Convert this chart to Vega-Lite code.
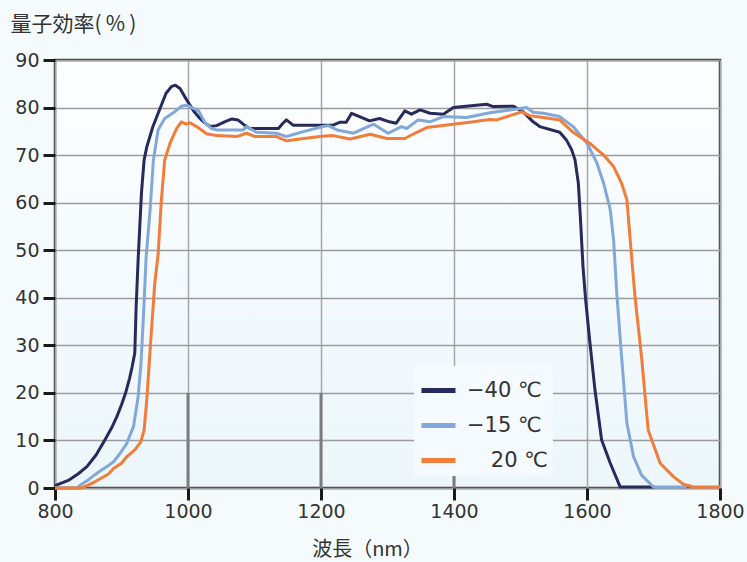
{
  "$schema": "https://vega.github.io/schema/vega-lite/v6.json",
  "width": 665,
  "height": 428,
  "autosize": {"type": "none"},
  "padding": {"left": 55, "top": 60, "right": 27, "bottom": 74},
  "background": "#f5fbfd",
  "config": {
    "font": "DejaVu Sans",
    "view": {
      "stroke": "#3c3c3c",
      "strokeWidth": 2.5,
      "fill": {
        "gradient": "linear",
        "x1": 0, "y1": -0.14, "x2": 0, "y2": 1.17,
        "stops": [{"offset": 0, "color": "#ffffff"}, {"offset": 1, "color": "#e9f5fb"}]
      }
    },
    "axisX": {
      "domain": false,
      "tickSize": 12, "tickWidth": 3, "tickColor": "#1a1a1a",
      "gridColor": "#a8a8a8", "gridWidth": 1.5,
      "labelFontSize": 19, "labelColor": "#333333", "labelPadding": 2,
      "labelFlush": false, "labelOverlap": false,
      "titleFont": "Noto Sans CJK JP", "titleFontSize": 20, "titleFontWeight": "normal", "titleColor": "#333333",
      "titleX": 312, "titleY": 67, "titleAlign": "center", "titleBaseline": "alphabetic"
    },
    "axisY": {
      "domain": false,
      "tickSize": 12, "tickWidth": 3, "tickColor": "#1a1a1a",
      "gridColor": "#9c9c9c", "gridWidth": 1.5,
      "labelFontSize": 19, "labelColor": "#333333", "labelPadding": 4,
      "titleFont": "Noto Sans CJK JP", "titleFontSize": 21, "titleFontWeight": "normal", "titleColor": "#333333",
      "titleAngle": 0, "titleAlign": "left", "titleBaseline": "alphabetic", "titleX": -45, "titleY": -30
    }
  },
  "datasets": {
    "marks": [
      {"nm": 1000, "qe": 0, "qe2": 20},
      {"nm": 1200, "qe": 0, "qe2": 20},
      {"nm": 1400, "qe": 0, "qe2": 20}
    ],
    "curves": [
      {"nm": 800, "qe": 0.5, "t": "−40 ℃"},
      {"nm": 820, "qe": 1.6, "t": "−40 ℃"},
      {"nm": 835, "qe": 3.0, "t": "−40 ℃"},
      {"nm": 848, "qe": 4.5, "t": "−40 ℃"},
      {"nm": 862, "qe": 7.0, "t": "−40 ℃"},
      {"nm": 875, "qe": 10.1, "t": "−40 ℃"},
      {"nm": 885, "qe": 12.6, "t": "−40 ℃"},
      {"nm": 893, "qe": 15.0, "t": "−40 ℃"},
      {"nm": 900, "qe": 17.5, "t": "−40 ℃"},
      {"nm": 906, "qe": 19.9, "t": "−40 ℃"},
      {"nm": 912, "qe": 23.0, "t": "−40 ℃"},
      {"nm": 916, "qe": 25.5, "t": "−40 ℃"},
      {"nm": 920, "qe": 28.4, "t": "−40 ℃"},
      {"nm": 922, "qe": 38, "t": "−40 ℃"},
      {"nm": 925, "qe": 48, "t": "−40 ℃"},
      {"nm": 930, "qe": 62, "t": "−40 ℃"},
      {"nm": 934, "qe": 69, "t": "−40 ℃"},
      {"nm": 938, "qe": 71.7, "t": "−40 ℃"},
      {"nm": 947, "qe": 75.9, "t": "−40 ℃"},
      {"nm": 957, "qe": 79.5, "t": "−40 ℃"},
      {"nm": 967, "qe": 83.0, "t": "−40 ℃"},
      {"nm": 975, "qe": 84.4, "t": "−40 ℃"},
      {"nm": 981, "qe": 84.7, "t": "−40 ℃"},
      {"nm": 988, "qe": 84.0, "t": "−40 ℃"},
      {"nm": 995, "qe": 82.3, "t": "−40 ℃"},
      {"nm": 1003, "qe": 80.5, "t": "−40 ℃"},
      {"nm": 1010, "qe": 79.0, "t": "−40 ℃"},
      {"nm": 1018, "qe": 77.7, "t": "−40 ℃"},
      {"nm": 1025, "qe": 76.8, "t": "−40 ℃"},
      {"nm": 1033, "qe": 76.0, "t": "−40 ℃"},
      {"nm": 1043, "qe": 76.2, "t": "−40 ℃"},
      {"nm": 1055, "qe": 77.0, "t": "−40 ℃"},
      {"nm": 1066, "qe": 77.6, "t": "−40 ℃"},
      {"nm": 1075, "qe": 77.4, "t": "−40 ℃"},
      {"nm": 1084, "qe": 76.4, "t": "−40 ℃"},
      {"nm": 1093, "qe": 75.6, "t": "−40 ℃"},
      {"nm": 1136, "qe": 75.6, "t": "−40 ℃"},
      {"nm": 1142, "qe": 76.6, "t": "−40 ℃"},
      {"nm": 1148, "qe": 77.4, "t": "−40 ℃"},
      {"nm": 1158, "qe": 76.3, "t": "−40 ℃"},
      {"nm": 1218, "qe": 76.3, "t": "−40 ℃"},
      {"nm": 1228, "qe": 76.9, "t": "−40 ℃"},
      {"nm": 1238, "qe": 76.9, "t": "−40 ℃"},
      {"nm": 1246, "qe": 78.8, "t": "−40 ℃"},
      {"nm": 1258, "qe": 78.1, "t": "−40 ℃"},
      {"nm": 1273, "qe": 77.2, "t": "−40 ℃"},
      {"nm": 1288, "qe": 77.7, "t": "−40 ℃"},
      {"nm": 1303, "qe": 77.0, "t": "−40 ℃"},
      {"nm": 1313, "qe": 76.7, "t": "−40 ℃"},
      {"nm": 1326, "qe": 79.3, "t": "−40 ℃"},
      {"nm": 1336, "qe": 78.6, "t": "−40 ℃"},
      {"nm": 1349, "qe": 79.5, "t": "−40 ℃"},
      {"nm": 1364, "qe": 78.8, "t": "−40 ℃"},
      {"nm": 1384, "qe": 78.6, "t": "−40 ℃"},
      {"nm": 1399, "qe": 80.0, "t": "−40 ℃"},
      {"nm": 1449, "qe": 80.7, "t": "−40 ℃"},
      {"nm": 1459, "qe": 80.2, "t": "−40 ℃"},
      {"nm": 1489, "qe": 80.3, "t": "−40 ℃"},
      {"nm": 1504, "qe": 79.1, "t": "−40 ℃"},
      {"nm": 1519, "qe": 77.0, "t": "−40 ℃"},
      {"nm": 1529, "qe": 76.0, "t": "−40 ℃"},
      {"nm": 1559, "qe": 74.8, "t": "−40 ℃"},
      {"nm": 1569, "qe": 73.2, "t": "−40 ℃"},
      {"nm": 1577, "qe": 71.1, "t": "−40 ℃"},
      {"nm": 1582, "qe": 69.0, "t": "−40 ℃"},
      {"nm": 1587, "qe": 64.1, "t": "−40 ℃"},
      {"nm": 1590, "qe": 57.0, "t": "−40 ℃"},
      {"nm": 1594, "qe": 46.5, "t": "−40 ℃"},
      {"nm": 1598, "qe": 39.5, "t": "−40 ℃"},
      {"nm": 1604, "qe": 31.1, "t": "−40 ℃"},
      {"nm": 1612, "qe": 20.6, "t": "−40 ℃"},
      {"nm": 1622, "qe": 10.1, "t": "−40 ℃"},
      {"nm": 1635, "qe": 5.2, "t": "−40 ℃"},
      {"nm": 1650, "qe": 0.2, "t": "−40 ℃"},
      {"nm": 1702, "qe": 0.2, "t": "−40 ℃"},

      {"nm": 800, "qe": 0, "t": "−15 ℃"},
      {"nm": 833, "qe": 0, "t": "−15 ℃"},
      {"nm": 840, "qe": 0.8, "t": "−15 ℃"},
      {"nm": 850, "qe": 1.7, "t": "−15 ℃"},
      {"nm": 860, "qe": 2.8, "t": "−15 ℃"},
      {"nm": 870, "qe": 3.8, "t": "−15 ℃"},
      {"nm": 880, "qe": 4.7, "t": "−15 ℃"},
      {"nm": 888, "qe": 5.5, "t": "−15 ℃"},
      {"nm": 898, "qe": 7.3, "t": "−15 ℃"},
      {"nm": 908, "qe": 9.4, "t": "−15 ℃"},
      {"nm": 918, "qe": 12.9, "t": "−15 ℃"},
      {"nm": 925, "qe": 19.2, "t": "−15 ℃"},
      {"nm": 929, "qe": 25.5, "t": "−15 ℃"},
      {"nm": 933, "qe": 36.0, "t": "−15 ℃"},
      {"nm": 937, "qe": 48.5, "t": "−15 ℃"},
      {"nm": 943, "qe": 58.5, "t": "−15 ℃"},
      {"nm": 948, "qe": 69.0, "t": "−15 ℃"},
      {"nm": 955, "qe": 75.3, "t": "−15 ℃"},
      {"nm": 965, "qe": 77.7, "t": "−15 ℃"},
      {"nm": 980, "qe": 79.1, "t": "−15 ℃"},
      {"nm": 990, "qe": 80.3, "t": "−15 ℃"},
      {"nm": 998, "qe": 80.5, "t": "−15 ℃"},
      {"nm": 1006, "qe": 80.0, "t": "−15 ℃"},
      {"nm": 1016, "qe": 79.3, "t": "−15 ℃"},
      {"nm": 1026, "qe": 76.7, "t": "−15 ℃"},
      {"nm": 1035, "qe": 75.6, "t": "−15 ℃"},
      {"nm": 1043, "qe": 75.3, "t": "−15 ℃"},
      {"nm": 1083, "qe": 75.3, "t": "−15 ℃"},
      {"nm": 1088, "qe": 76.0, "t": "−15 ℃"},
      {"nm": 1103, "qe": 74.8, "t": "−15 ℃"},
      {"nm": 1133, "qe": 74.6, "t": "−15 ℃"},
      {"nm": 1148, "qe": 73.9, "t": "−15 ℃"},
      {"nm": 1175, "qe": 75.0, "t": "−15 ℃"},
      {"nm": 1203, "qe": 76.0, "t": "−15 ℃"},
      {"nm": 1211, "qe": 76.2, "t": "−15 ℃"},
      {"nm": 1224, "qe": 75.3, "t": "−15 ℃"},
      {"nm": 1249, "qe": 74.6, "t": "−15 ℃"},
      {"nm": 1279, "qe": 76.5, "t": "−15 ℃"},
      {"nm": 1301, "qe": 74.6, "t": "−15 ℃"},
      {"nm": 1321, "qe": 76.0, "t": "−15 ℃"},
      {"nm": 1329, "qe": 75.6, "t": "−15 ℃"},
      {"nm": 1346, "qe": 77.4, "t": "−15 ℃"},
      {"nm": 1364, "qe": 77.0, "t": "−15 ℃"},
      {"nm": 1384, "qe": 78.1, "t": "−15 ℃"},
      {"nm": 1419, "qe": 77.9, "t": "−15 ℃"},
      {"nm": 1454, "qe": 78.9, "t": "−15 ℃"},
      {"nm": 1484, "qe": 79.5, "t": "−15 ℃"},
      {"nm": 1509, "qe": 80.0, "t": "−15 ℃"},
      {"nm": 1519, "qe": 79.0, "t": "−15 ℃"},
      {"nm": 1534, "qe": 78.8, "t": "−15 ℃"},
      {"nm": 1559, "qe": 78.1, "t": "−15 ℃"},
      {"nm": 1579, "qe": 76.0, "t": "−15 ℃"},
      {"nm": 1600, "qe": 72.5, "t": "−15 ℃"},
      {"nm": 1615, "qe": 68.3, "t": "−15 ℃"},
      {"nm": 1625, "qe": 64.1, "t": "−15 ℃"},
      {"nm": 1635, "qe": 58.5, "t": "−15 ℃"},
      {"nm": 1640, "qe": 52.1, "t": "−15 ℃"},
      {"nm": 1645, "qe": 40.5, "t": "−15 ℃"},
      {"nm": 1652, "qe": 27.6, "t": "−15 ℃"},
      {"nm": 1660, "qe": 13.6, "t": "−15 ℃"},
      {"nm": 1670, "qe": 6.6, "t": "−15 ℃"},
      {"nm": 1682, "qe": 2.7, "t": "−15 ℃"},
      {"nm": 1700, "qe": 0.2, "t": "−15 ℃"},
      {"nm": 1750, "qe": 0.2, "t": "−15 ℃"},

      {"nm": 800, "qe": 0, "t": "20 ℃"},
      {"nm": 840, "qe": 0, "t": "20 ℃"},
      {"nm": 850, "qe": 0.6, "t": "20 ℃"},
      {"nm": 860, "qe": 1.3, "t": "20 ℃"},
      {"nm": 870, "qe": 2.1, "t": "20 ℃"},
      {"nm": 880, "qe": 2.9, "t": "20 ℃"},
      {"nm": 888, "qe": 4.1, "t": "20 ℃"},
      {"nm": 900, "qe": 5.2, "t": "20 ℃"},
      {"nm": 908, "qe": 6.6, "t": "20 ℃"},
      {"nm": 914, "qe": 7.3, "t": "20 ℃"},
      {"nm": 920, "qe": 8.0, "t": "20 ℃"},
      {"nm": 929, "qe": 9.7, "t": "20 ℃"},
      {"nm": 934, "qe": 12.2, "t": "20 ℃"},
      {"nm": 938, "qe": 18.5, "t": "20 ℃"},
      {"nm": 943, "qe": 29.0, "t": "20 ℃"},
      {"nm": 950, "qe": 43.0, "t": "20 ℃"},
      {"nm": 955, "qe": 49.0, "t": "20 ℃"},
      {"nm": 960, "qe": 60.6, "t": "20 ℃"},
      {"nm": 965, "qe": 69.0, "t": "20 ℃"},
      {"nm": 973, "qe": 72.5, "t": "20 ℃"},
      {"nm": 983, "qe": 75.6, "t": "20 ℃"},
      {"nm": 990, "qe": 77.0, "t": "20 ℃"},
      {"nm": 997, "qe": 76.5, "t": "20 ℃"},
      {"nm": 1003, "qe": 76.8, "t": "20 ℃"},
      {"nm": 1013, "qe": 76.0, "t": "20 ℃"},
      {"nm": 1028, "qe": 74.5, "t": "20 ℃"},
      {"nm": 1043, "qe": 74.1, "t": "20 ℃"},
      {"nm": 1073, "qe": 73.9, "t": "20 ℃"},
      {"nm": 1088, "qe": 74.6, "t": "20 ℃"},
      {"nm": 1101, "qe": 73.9, "t": "20 ℃"},
      {"nm": 1133, "qe": 73.9, "t": "20 ℃"},
      {"nm": 1148, "qe": 73.0, "t": "20 ℃"},
      {"nm": 1198, "qe": 73.9, "t": "20 ℃"},
      {"nm": 1218, "qe": 74.1, "t": "20 ℃"},
      {"nm": 1244, "qe": 73.4, "t": "20 ℃"},
      {"nm": 1274, "qe": 74.4, "t": "20 ℃"},
      {"nm": 1299, "qe": 73.5, "t": "20 ℃"},
      {"nm": 1326, "qe": 73.5, "t": "20 ℃"},
      {"nm": 1344, "qe": 74.8, "t": "20 ℃"},
      {"nm": 1359, "qe": 75.8, "t": "20 ℃"},
      {"nm": 1399, "qe": 76.5, "t": "20 ℃"},
      {"nm": 1429, "qe": 77.0, "t": "20 ℃"},
      {"nm": 1454, "qe": 77.5, "t": "20 ℃"},
      {"nm": 1464, "qe": 77.4, "t": "20 ℃"},
      {"nm": 1484, "qe": 78.3, "t": "20 ℃"},
      {"nm": 1502, "qe": 79.1, "t": "20 ℃"},
      {"nm": 1514, "qe": 78.3, "t": "20 ℃"},
      {"nm": 1534, "qe": 77.9, "t": "20 ℃"},
      {"nm": 1559, "qe": 77.4, "t": "20 ℃"},
      {"nm": 1579, "qe": 74.8, "t": "20 ℃"},
      {"nm": 1604, "qe": 72.5, "t": "20 ℃"},
      {"nm": 1625, "qe": 70.0, "t": "20 ℃"},
      {"nm": 1640, "qe": 67.6, "t": "20 ℃"},
      {"nm": 1652, "qe": 64.1, "t": "20 ℃"},
      {"nm": 1660, "qe": 60.6, "t": "20 ℃"},
      {"nm": 1665, "qe": 52.1, "t": "20 ℃"},
      {"nm": 1672, "qe": 40.5, "t": "20 ℃"},
      {"nm": 1682, "qe": 27.6, "t": "20 ℃"},
      {"nm": 1692, "qe": 12.2, "t": "20 ℃"},
      {"nm": 1710, "qe": 5.2, "t": "20 ℃"},
      {"nm": 1730, "qe": 2.4, "t": "20 ℃"},
      {"nm": 1745, "qe": 0.8, "t": "20 ℃"},
      {"nm": 1760, "qe": 0.2, "t": "20 ℃"},
      {"nm": 1800, "qe": 0.2, "t": "20 ℃"}
    ]
  },
  "layer": [
    {
      "data": {"name": "marks"},
      "mark": {"type": "rule", "color": "#7c7c7c", "strokeWidth": 3},
      "encoding": {
        "x": {"field": "nm", "type": "quantitative", "scale": {"domain": [800, 1800], "nice": false}, "title": "波長（nm）",
              "axis": {"values": [800, 1000, 1200, 1400, 1600, 1800], "format": "d"}},
        "y": {"field": "qe", "type": "quantitative", "scale": {"domain": [0, 90], "nice": false}, "title": "量子効率(\u2009%\u2009)",
              "axis": {"values": [0, 10, 20, 30, 40, 50, 60, 70, 80, 90], "format": "d"}},
        "y2": {"field": "qe2"}
      }
    },
    {
      "data": {"name": "curves"},
      "mark": {"type": "line", "strokeWidth": 3, "strokeJoin": "round"},
      "encoding": {
        "x": {"field": "nm", "type": "quantitative", "scale": {"domain": [800, 1800], "nice": false}, "title": "波長（nm）",
              "axis": {"values": [800, 1000, 1200, 1400, 1600, 1800], "format": "d"}},
        "y": {"field": "qe", "type": "quantitative", "scale": {"domain": [0, 90], "nice": false}, "title": "量子効率(\u2009%\u2009)",
              "axis": {"values": [0, 10, 20, 30, 40, 50, 60, 70, 80, 90], "format": "d"}},
        "color": {
          "field": "t", "type": "nominal",
          "scale": {"domain": ["−40 ℃", "−15 ℃", "20 ℃"], "range": ["#272b5c", "#82a8d9", "#f27c3a"]},
          "legend": {
            "orient": "none", "legendX": 359, "legendY": 306,
            "title": null, "fillColor": "#f4fafd", "padding": 5,
            "symbolType": "stroke", "symbolSize": 1156, "symbolStrokeWidth": 5,
            "labelFontSize": 21, "labelColor": "#333333", "labelOffset": 9,
            "rowPadding": 5, "labelLimit": 300,
            "labelExpr": "datum.label == '20 ℃' ? '\u200b\u2007\u200220 ℃' : datum.label"
          }
        }
      }
    }
  ]
}
